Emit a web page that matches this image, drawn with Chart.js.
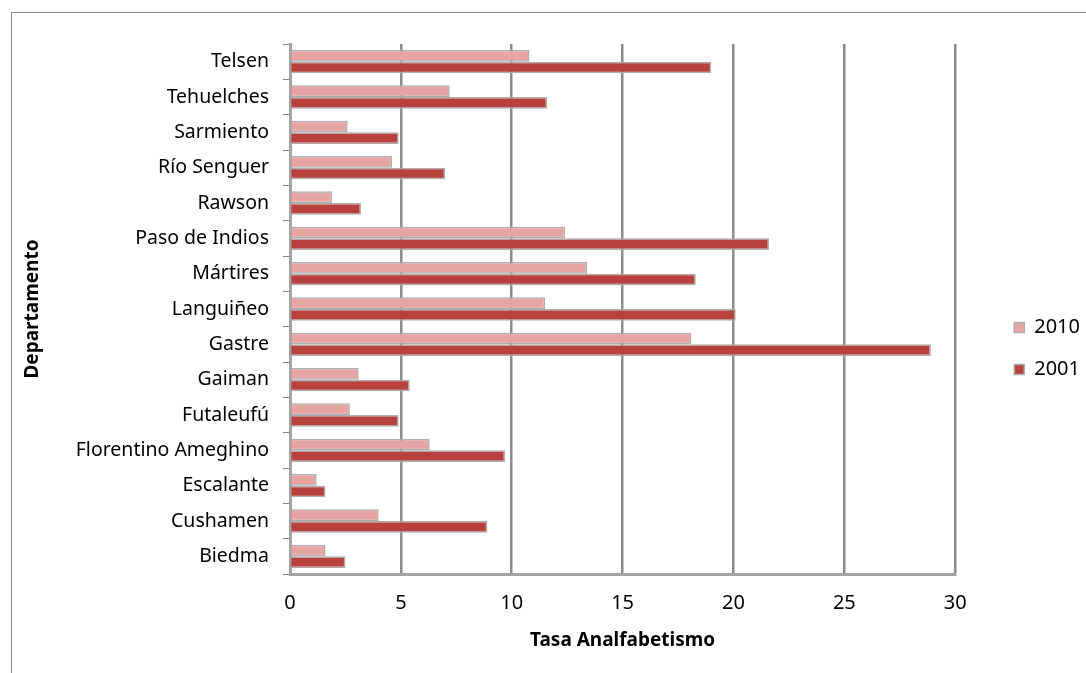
<!DOCTYPE html>
<html>
<head>
<meta charset="utf-8">
<script src="https://cdn.jsdelivr.net/npm/chart.js@4"></script>
<style>
  body { margin: 0; background: #fff; overflow: hidden; }
  #wrap { width: 1086px; height: 673px; position: relative; }
</style>
</head>
<body>
<div id="wrap"><canvas id="analfChart" width="1086" height="673"></canvas></div>
<script>
const departamentos = ["Telsen", "Tehuelches", "Sarmiento", "Río Senguer", "Rawson", "Paso de Indios",
    "Mártires", "Languiñeo", "Gastre", "Gaiman", "Futaleufú", "Florentino Ameghino",
    "Escalante", "Cushamen", "Biedma"];
const tasa2010 = [10.8, 7.2, 2.6, 4.6, 1.9, 12.4, 13.4, 11.5, 18.1, 3.1, 2.7, 6.3, 1.2, 4.0, 1.6];
const tasa2001 = [19.0, 11.6, 4.9, 7.0, 3.2, 21.6, 18.3, 20.1, 28.9, 5.4, 4.9, 9.7, 1.6, 8.9, 2.5];
const xTicks = [0, 5, 10, 15, 20, 25, 30];

const ctx = document.getElementById('analfChart').getContext('2d');
const font = "'Noto Sans', 'Open Sans', sans-serif";

// outer frame like the original spreadsheet chart
const frame = {
    id: 'frame',
    beforeDraw(chart) {
        const c = chart.ctx;
        c.save();
        c.fillStyle = '#fff';
        c.fillRect(0, 0, chart.width, chart.height);
        c.strokeStyle = '#8a8a8a';
        c.lineWidth = 1;
        c.strokeRect(11.5, 12.5, 1200, 800);
        c.restore();
    }
};

// nudge the legend a bit right and up
const legendShift = {
    id: 'legendShift',
    afterLayout(chart) {
        const lg = chart.legend;
        lg.left += 37; lg.right += 37;
        lg.top -= 5; lg.bottom -= 5;
    }
};

new Chart(ctx, {
    type: 'bar',
    data: {
        labels: departamentos,
        datasets: [{
            label: '2010',
            data: tasa2010,
            backgroundColor: '#e6a4a2',
            borderColor: '#adadad',
            borderWidth: 1.5
        }, {
            label: '2001',
            data: tasa2001,
            backgroundColor: '#b8413e',
            borderColor: '#adadad',
            borderWidth: 1.5
        }]
    },
    options: {
        indexAxis: 'y',
        responsive: false,
        animation: false,
        categoryPercentage: 0.66,
        barPercentage: 1.0,
        layout: { padding: { left: 21, top: 44, right: 33, bottom: 10 } },
        plugins: {
            legend: {
                position: 'right',
                labels: {
                    boxWidth: 10,
                    boxHeight: 10,
                    padding: 22,
                    color: '#000',
                    font: { family: font, size: 20 }
                }
            },
            tooltip: { enabled: false }
        },
        scales: {
            x: {
                min: 0,
                max: 30,
                afterBuildTicks: (axis) => { axis.ticks = xTicks.map(v => ({ value: v })); },
                afterFit: (axis) => { axis.height = 89; },
                grid: { color: '#8c8c8c', lineWidth: 2.5, drawTicks: false },
                border: { color: '#a3a3a3', width: 3 },
                ticks: { color: '#000', padding: 17, font: { family: font, size: 20 } },
                title: {
                    display: true,
                    text: 'Tasa Analfabetismo',
                    color: '#000',
                    padding: { top: 4, bottom: 11 },
                    font: { family: font, size: 19, weight: 'bold' }
                }
            },
            y: {
                afterFit: (axis) => { axis.width = 269; },
                grid: { drawOnChartArea: false, color: '#808080', tickLength: 7 },
                border: { color: '#a3a3a3', width: 3 },
                ticks: { color: '#000', padding: 14, font: { family: font, size: 19.5 } },
                title: {
                    display: true,
                    text: 'Departamento',
                    color: '#000',
                    padding: { top: 0, bottom: 0 },
                    font: { family: font, size: 19, weight: 'bold' }
                }
            }
        }
    },
    plugins: [frame, legendShift]
});
</script>
</body>
</html>
